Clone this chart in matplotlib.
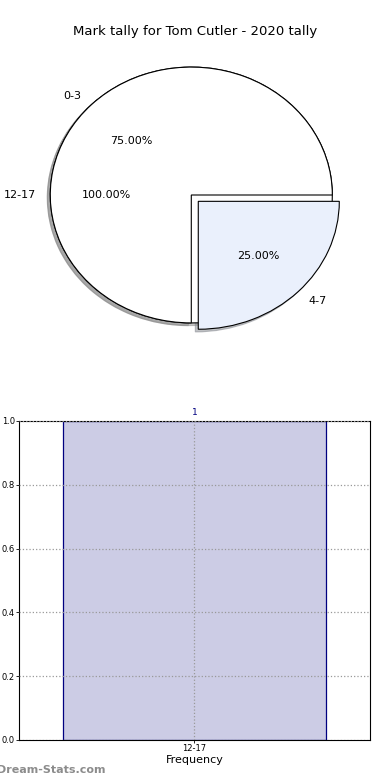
import matplotlib
matplotlib.use('Agg')
import matplotlib.pyplot as plt

# pie data
all_labels = ['12-17']
all_values = [1]
pie_labels = ['0-3', '4-7']
pie_values = [3, 1]
pie_colors = ['white', '#eaf0fc']

# bar data
bar_labels = ['12-17']
bar_values = [1]

fig = plt.figure(figsize=(3.9, 7.8), dpi=100)

fig.text(0.5, 1 - 31 / 780., 'Mark tally for Tom Cutler - 2020 tally',
         ha='center', va='center', fontsize=9.5)

shadow = {'ox': -0.015, 'oy': -0.015, 'shade': 0.45}
ax1 = fig.add_axes([0.0385, 0.545, 0.904, 0.410])
ax1.pie(all_values, labels=all_labels, colors=['white'], autopct='%.2f%%',
        shadow=shadow, wedgeprops={'edgecolor': 'black', 'linewidth': 0.8},
        textprops={'fontsize': 8})
ax1.pie(pie_values, labels=pie_labels, colors=pie_colors, autopct='%.2f%%',
        explode=[0, 0.07], shadow=shadow,
        wedgeprops={'edgecolor': 'black', 'linewidth': 0.8},
        textprops={'fontsize': 8})
ax1.set_aspect('auto')
ax1.set_xlim(-1.25, 1.25)
ax1.set_ylim(-1.25, 1.25)
ax1.axis('off')

ax2 = fig.add_axes([0.0487, 0.0513, 0.9, 0.409])
x = range(len(bar_values))
bars = ax2.bar(x, bar_values, width=0.75, color='#ccccE5', edgecolor='#000080',
               linewidth=0.9, zorder=1)
for xi, v in zip(x, bar_values):
    ax2.text(xi, v + 0.012, str(v), ha='center', va='bottom', fontsize=6.5,
             color='#000080')
ax2.set_xlim(-0.5, 0.5)
ax2.set_ylim(0, 1.0)
ax2.set_xticks(list(x))
ax2.set_xticklabels(bar_labels)
ax2.set_yticks([0.0, 0.2, 0.4, 0.6, 0.8, 1.0])
ax2.tick_params(labelsize=6, length=2, width=0.6, pad=1)
ax2.grid(True, linestyle=':', color='#999999', linewidth=0.9, zorder=3)
ax2.set_axisbelow(False)
ax2.set_xlabel('Frequency', fontsize=8, labelpad=1)

fig.text(-0.008, 1 - 770 / 780., 'Dream-Stats.com', ha='left', va='center',
         fontsize=8, color='#8c8c8c', fontweight='bold')

fig.savefig('out.png', dpi=100)
